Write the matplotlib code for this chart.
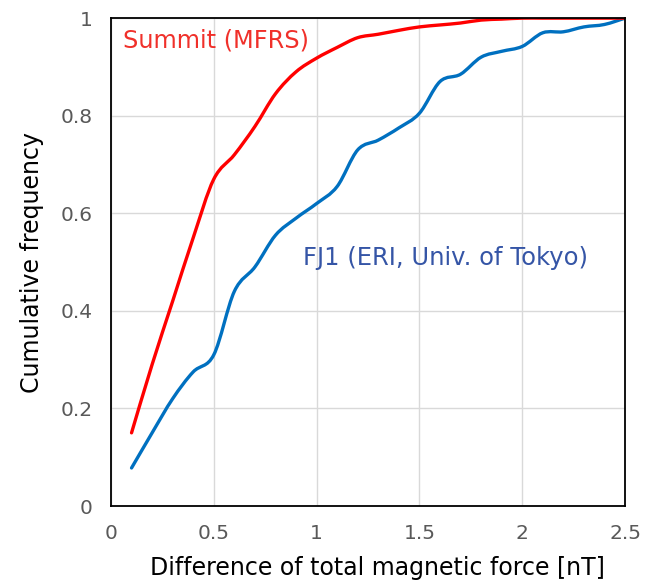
import numpy as np
import matplotlib.pyplot as plt
from matplotlib.path import Path
from matplotlib.patches import PathPatch

# difference of total magnetic force [nT]
x = [0.1, 0.2, 0.3, 0.4, 0.5, 0.6, 0.7, 0.8, 0.9, 1.0, 1.1, 1.2, 1.3,
     1.4, 1.5, 1.6, 1.7, 1.8, 1.9, 2.0, 2.1, 2.2, 2.3, 2.4, 2.5]

summit = [0.15, 0.29, 0.42, 0.55, 0.67, 0.72, 0.778, 0.845, 0.89, 0.918,
          0.94, 0.96, 0.967, 0.975, 0.982, 0.986, 0.99, 0.996, 0.998, 1.0,
          1.0, 1.0, 1.0, 1.0, 1.0]

fj1 = [0.078, 0.15, 0.22, 0.275, 0.31, 0.44, 0.49, 0.555, 0.59, 0.62,
       0.655, 0.73, 0.75, 0.775, 0.805, 0.87, 0.885, 0.92, 0.932, 0.942,
       0.97, 0.972, 0.982, 0.987, 1.0]


def smooth_path(xs, ys):
    # Excel-style smoothed line: Catmull-Rom segments as cubic Bezier
    p = np.column_stack([xs, ys])
    verts = [p[0]]
    codes = [Path.MOVETO]
    n = len(p)
    for i in range(n - 1):
        p0 = p[i - 1] if i > 0 else p[i]
        p3 = p[i + 2] if i + 2 < n else p[i + 1]
        c1 = p[i] + (p[i + 1] - p0) / 6
        c2 = p[i + 1] - (p3 - p[i]) / 6
        verts += [c1, c2, p[i + 1]]
        codes += [Path.CURVE4] * 3
    return Path(verts, codes)


fig = plt.figure(figsize=(6.54, 5.85), dpi=100)
ax = fig.add_axes([0.1697, 0.135, 0.786, 0.834])

ax.add_patch(PathPatch(smooth_path(x, fj1), facecolor='none',
                       edgecolor='#0070C0', lw=2.4, capstyle='round'))
ax.add_patch(PathPatch(smooth_path(x, summit), facecolor='none',
                       edgecolor='#FF0000', lw=2.4, capstyle='round'))

ax.set_xlim(0, 2.5)
ax.set_ylim(0, 1)
ax.set_xticks([0, 0.5, 1, 1.5, 2, 2.5])
ax.set_xticklabels(['0', '0.5', '1', '1.5', '2', '2.5'])
ax.set_yticks([0, 0.2, 0.4, 0.6, 0.8, 1])
ax.set_yticklabels(['0', '0.2', '0.4', '0.6', '0.8', '1'])
ax.tick_params(length=0, labelsize=14.5, labelcolor='#595959')
ax.tick_params(axis='x', pad=13)
ax.tick_params(axis='y', pad=13)
ax.grid(True, color='#D9D9D9', lw=1)
ax.set_axisbelow(True)
for s in ax.spines.values():
    s.set_color('black')
    s.set_linewidth(1.3)

ax.set_xlabel('Difference of total magnetic force [nT]', fontsize=17, labelpad=9)
ax.xaxis.label.set_x(0.518)
ax.set_ylabel('Cumulative frequency', fontsize=17, labelpad=12)

ax.text(0.058, 0.955, 'Summit (MFRS)', color='#F0302A', fontsize=17.3,
        va='center', ha='left')
ax.text(0.934, 0.508, 'FJ1 (ERI, Univ. of Tokyo)', color='#3555A6', fontsize=17.5,
        va='center', ha='left')

fig.savefig('out.png', dpi=100)
